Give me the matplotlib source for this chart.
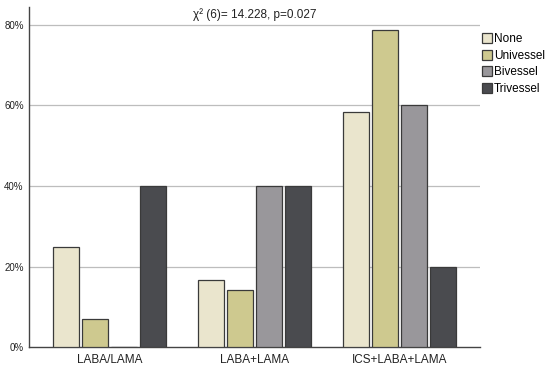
import matplotlib
matplotlib.use("Agg")
import matplotlib.pyplot as plt
import numpy as np
from matplotlib.patches import Patch

plt.rcParams['font.family'] = ['Liberation Sans', 'DejaVu Sans']

categories = ["LABA/LAMA", "LABA+LAMA", "ICS+LABA+LAMA"]
series_names = ["None", "Univessel", "Bivessel", "Trivessel"]
none_vals = [25.0, 16.7, 58.3]
univessel_vals = [7.1, 14.3, 78.6]
bivessel_vals = [0.0, 40.0, 60.0]
trivessel_vals = [40.0, 40.0, 20.0]
yticks = [0, 20, 40, 60, 80]
ytick_labels = ["0%", "20%", "40%", "60%", "80%"]
title = "χ² (6)= 14.228, p=0.027"

colors = ["#EAE5CD", "#CEC98F", "#99979B", "#4A4B4F"]
edge = "#3A3A3A"

fig = plt.figure(figsize=(5.5, 3.69), dpi=100)
ax = fig.add_axes([0.0533, 0.0588, 0.8194, 0.9222])

x = np.arange(len(categories))
vals = [none_vals, univessel_vals, bivessel_vals, trivessel_vals]
offsets = [-0.3, -0.1, 0.1, 0.3]
for v, off, c in zip(vals, offsets, colors):
    ax.bar(x + off, v, width=0.179, color=c, edgecolor=edge, linewidth=0.9, zorder=3)

ax.set_xlim(-0.553, 2.553)
ax.set_ylim(0, 84.4)
ax.set_yticks(yticks)
ax.set_yticklabels(ytick_labels, fontsize=7, color="#222222")
ax.set_xticks(x)
ax.set_xticklabels(categories, fontsize=8.5, color="#222222")
ax.tick_params(axis='both', length=0, pad=4)
ax.tick_params(axis='x', pad=5)
for yv in yticks[1:]:
    ax.axhline(yv, color="#BDBDBD", linewidth=0.9, zorder=1)
for s in ["top", "right"]:
    ax.spines[s].set_visible(False)
for s in ["left", "bottom"]:
    ax.spines[s].set_color("#444444")
    ax.spines[s].set_linewidth(1.0)

fig.text(255 / 550, 1 - 14.5 / 369, title, ha="center", va="center", fontsize=8.5, color="#222222")

handles = [Patch(facecolor=c, edgecolor=edge, linewidth=0.9) for c in colors]
leg = fig.legend(handles, series_names, loc="upper left", bbox_to_anchor=(482 / 550, 1 - 33 / 369),
                 frameon=False, fontsize=8.5, handlelength=0.85, handleheight=0.95,
                 handletextpad=0.15, labelspacing=0.38, borderaxespad=0, borderpad=0)

fig.savefig("out.png", dpi=100)
